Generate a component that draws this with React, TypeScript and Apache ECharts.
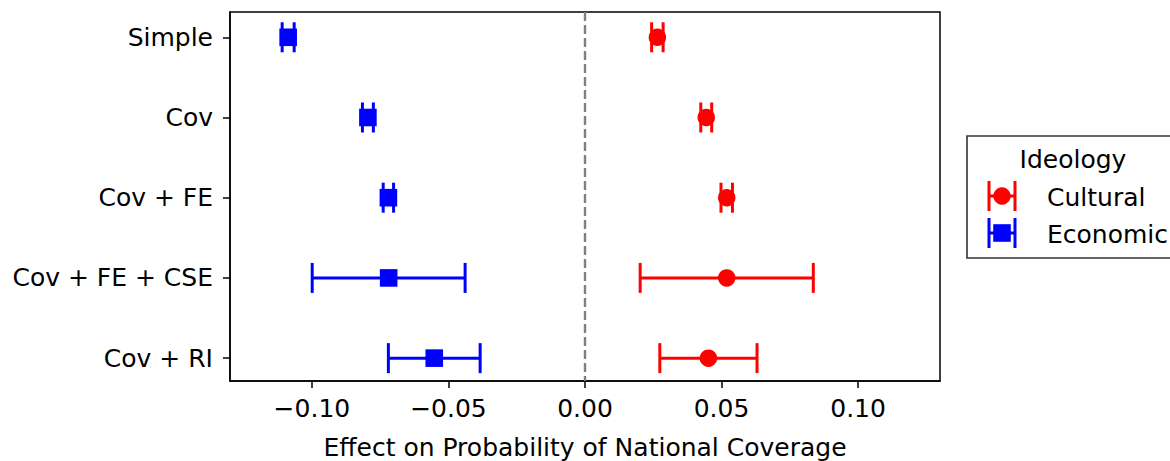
import React, { useEffect, useRef } from "react";
import * as echarts from "echarts";

const categories = ["Simple", "Cov", "Cov + FE", "Cov + FE + CSE", "Cov + RI"];
const culturalEst = [0.0265, 0.0444, 0.0519, 0.0519, 0.0452];
const culturalErr = [0.0021, 0.002, 0.0021, 0.0317, 0.0178];
const economicEst = [-0.1087, -0.0795, -0.072, -0.0719, -0.0552];
const economicErr = [0.0022, 0.002, 0.0019, 0.028, 0.0168];
const xTicks = [-0.1, -0.05, 0, 0.05, 0.1];
const yTicks = [0, 1, 2, 3, 4];
const seriesNames = ["Cultural", "Economic"];
const legendTitle = "Ideology";
const xAxisTitle = "Effect on Probability of National Coverage";

const RED = "#ff0000";
const BLUE = "#0000ff";
const FONT = "DejaVu Sans";
const FS = 25;

function fmtTick(v: number): string {
  const s = Math.abs(v).toFixed(2);
  return v < -1e-9 ? "\u2212" + s : s;
}

function errData(est: number[], err: number[]) {
  return est.map((e, i) => [e, e - err[i], e + err[i], i]);
}

function errRender(color: string) {
  return (params: any, api: any) => {
    const y = api.value(3);
    const lo = api.coord([api.value(1), y]);
    const hi = api.coord([api.value(2), y]);
    const h = 15;
    const style = { stroke: color, lineWidth: 3 };
    return {
      type: "group",
      children: [
        { type: "line", shape: { x1: lo[0], y1: lo[1], x2: hi[0], y2: hi[1] }, style },
        { type: "line", shape: { x1: lo[0], y1: lo[1] - h, x2: lo[0], y2: lo[1] + h }, style },
        { type: "line", shape: { x1: hi[0], y1: hi[1] - h, x2: hi[0], y2: hi[1] + h }, style },
      ],
    };
  };
}

function legendIcon(cx: number, cy: number, color: string, shape: "circle" | "rect") {
  const style = { stroke: color, lineWidth: 3 };
  const out: any[] = [
    { type: "line", z: 11, shape: { x1: cx - 13, y1: cy, x2: cx + 13, y2: cy }, style },
    { type: "line", z: 11, shape: { x1: cx - 13, y1: cy - 15, x2: cx - 13, y2: cy + 15 }, style },
    { type: "line", z: 11, shape: { x1: cx + 13, y1: cy - 15, x2: cx + 13, y2: cy + 15 }, style },
  ];
  if (shape === "circle") {
    out.push({ type: "circle", z: 12, shape: { cx, cy, r: 8.7 }, style: { fill: color } });
  } else {
    out.push({ type: "rect", z: 12, shape: { x: cx - 8.8, y: cy - 8.8, width: 17.6, height: 17.6 }, style: { fill: color } });
  }
  return out;
}

export default function App() {
  const ref = useRef<HTMLDivElement>(null);
  useEffect(() => {
    if (!ref.current) return;
    const chart = echarts.init(ref.current, undefined, { renderer: "svg" });
    const option: any = {
      animation: false,
      backgroundColor: "#ffffff",
      textStyle: { fontFamily: FONT },
      grid: {
        left: 230,
        right: 230,
        top: 12,
        bottom: 80,
        show: true,
        borderColor: "#000",
        borderWidth: 1.5,
        containLabel: false,
        outerBoundsMode: "none",
      },
      xAxis: {
        type: "value",
        min: -0.13,
        max: 0.13,
        name: xAxisTitle,
        nameLocation: "middle",
        nameGap: 52,
        nameTextStyle: { fontSize: FS, color: "#000", fontFamily: FONT, lineHeight: 28 },
        axisLine: { show: true, onZero: false, lineStyle: { color: "#000", width: 1.5 } },
        axisTick: { show: true, length: 7, customValues: xTicks, lineStyle: { color: "#000", width: 1.5 } },
        axisLabel: {
          customValues: xTicks,
          formatter: (v: number) => fmtTick(v),
          fontSize: FS,
          color: "#000",
          margin: 15,
          fontFamily: FONT,
        },
        splitLine: { show: false },
      },
      yAxis: {
        type: "value",
        inverse: true,
        min: -0.315,
        max: 4.285,
        axisLine: { show: true, onZero: false, lineStyle: { color: "#000", width: 1.5 } },
        axisTick: { show: true, length: 7, customValues: yTicks, lineStyle: { color: "#000", width: 1.5 } },
        axisLabel: {
          customValues: yTicks,
          formatter: (v: number) => categories[Math.round(v)] ?? "",
          fontSize: FS,
          color: "#000",
          margin: 17,
          fontFamily: FONT,
        },
        splitLine: { show: false },
      },
      series: [
        {
          type: "custom",
          name: seriesNames[0] + " CI",
          renderItem: errRender(RED),
          encode: { x: [0, 1, 2], y: 3 },
          data: errData(culturalEst, culturalErr),
          z: 2,
          markLine: {
            silent: true,
            symbol: "none",
            label: { show: false },
            lineStyle: { color: "#808080", type: [9, 4], width: 2.4 },
            data: [{ xAxis: 0 }],
          },
        },
        {
          type: "custom",
          name: seriesNames[1] + " CI",
          renderItem: errRender(BLUE),
          encode: { x: [0, 1, 2], y: 3 },
          data: errData(economicEst, economicErr),
          z: 2,
        },
        {
          type: "scatter",
          name: seriesNames[0],
          symbol: "circle",
          symbolSize: 17.5,
          itemStyle: { color: RED, opacity: 1 },
          data: culturalEst.map((e, i) => [e, i]),
          z: 3,
        },
        {
          type: "scatter",
          name: seriesNames[1],
          symbol: "rect",
          symbolSize: 17.6,
          itemStyle: { color: BLUE, opacity: 1 },
          data: economicEst.map((e, i) => [e, i]),
          z: 3,
        },
      ],
      graphic: [
        {
          type: "rect",
          shape: { x: 967, y: 136, width: 230, height: 122 },
          style: { fill: "#fff", stroke: "#333", lineWidth: 1.6 },
          z: 10,
        },
        {
          type: "text",
          x: 1073,
          y: 159,
          style: { text: legendTitle, fontSize: FS, fontFamily: FONT, fill: "#000", align: "center", verticalAlign: "middle" },
          z: 11,
        },
        ...legendIcon(1002, 196, RED, "circle"),
        {
          type: "text",
          x: 1047,
          y: 197,
          style: { text: seriesNames[0], fontSize: FS, fontFamily: FONT, fill: "#000", align: "left", verticalAlign: "middle" },
          z: 11,
        },
        ...legendIcon(1002, 233, BLUE, "rect"),
        {
          type: "text",
          x: 1047,
          y: 234,
          style: { text: seriesNames[1], fontSize: FS, fontFamily: FONT, fill: "#000", align: "left", verticalAlign: "middle" },
          z: 11,
        },
      ],
    };
    chart.setOption(option);
    return () => chart.dispose();
  }, []);
  return <div ref={ref} style={{ width: 1170, height: 461, position: "absolute", left: 0, top: 0 }} />;
}
